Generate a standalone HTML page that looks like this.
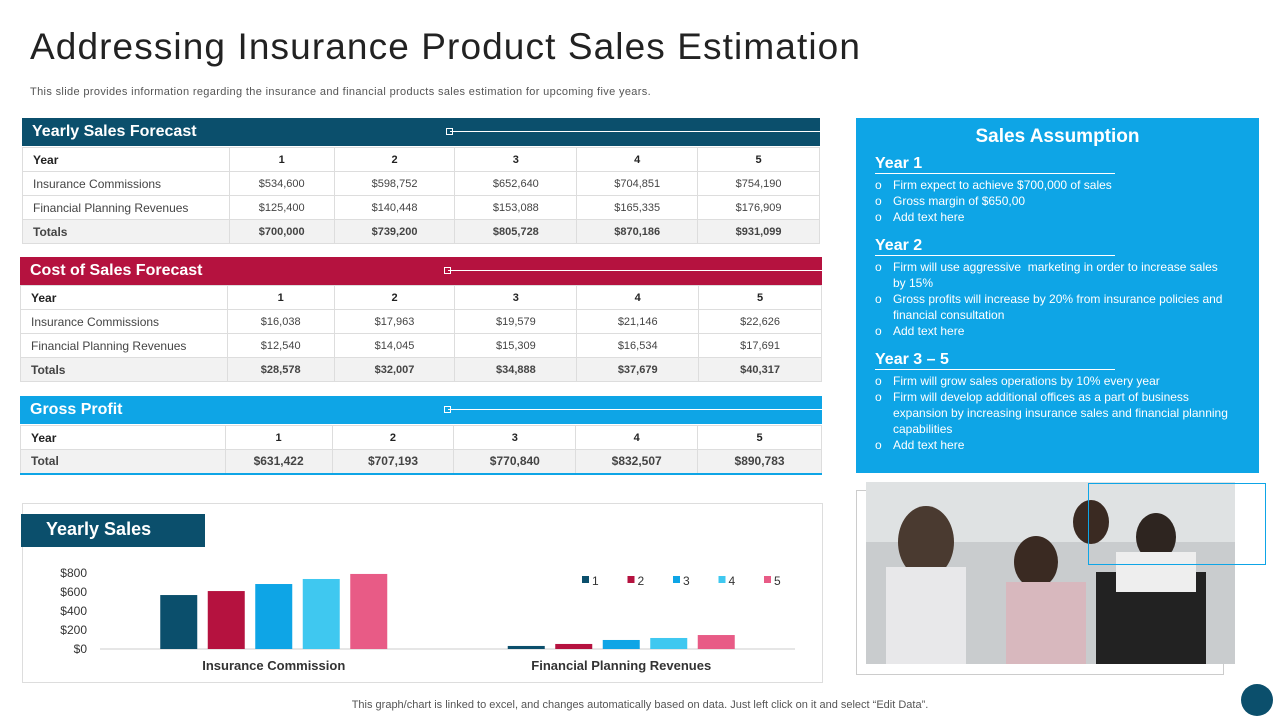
<!DOCTYPE html>
<html><head><meta charset="utf-8"><style>
*{margin:0;padding:0;box-sizing:border-box}
body{width:1280px;height:720px;background:#fff;font-family:"Liberation Sans",sans-serif;position:relative;overflow:hidden;color:#333}
.abs{position:absolute}
h1{position:absolute;left:30px;top:26px;font-size:37px;font-weight:normal;color:#222;letter-spacing:1.1px}
.sub{left:30px;top:86px;font-size:11px;color:#555;letter-spacing:0.35px}
.hdr{position:absolute;height:28px;color:#fff;font-size:16px;font-weight:bold;padding:5px 10px}
.hdr .ln{position:absolute;left:428px;top:13px;right:0;height:1px;background:#fff}
.hdr .sq{position:absolute;left:424px;top:10px;width:7px;height:7px;border:1px solid #fff}
table{position:absolute;border-collapse:collapse;font-size:11px}
td{border:1px solid #ddd;text-align:center;height:24px;color:#444}
td:first-child{text-align:left;padding-left:10px;font-size:12px}
tr.b td{font-weight:bold;background:#f2f2f2}
tr.y td{font-weight:bold;color:#222}
.panel{left:856px;top:118px;width:403px;height:355px;background:#0ea5e6;color:#fff;padding:8px 30px 8px 19px}
.panel h2{text-align:center;font-size:19px;margin-bottom:7px;margin-right:-11px}
.panel h3{font-size:16px;border-bottom:1px solid #fff;width:240px;margin-top:6px;margin-bottom:3px}
.panel ul{list-style:none;font-size:12px;line-height:16px}
.panel li{padding-left:18px;position:relative}
.panel li:before{content:"o";position:absolute;left:0}
</style></head><body>
<h1>Addressing Insurance Product Sales Estimation</h1>
<div class="abs sub">This slide provides information regarding the insurance and financial products sales estimation for upcoming five years.</div>

<div class="hdr" style="left:22px;top:118px;width:798px;background:#0b4f6c">Yearly Sales Forecast<div class="sq"></div><div class="ln"></div></div>
<table style="left:22px;top:147px;width:798px">
<colgroup><col style="width:207px"><col style="width:105px"><col style="width:121px"><col style="width:122px"><col style="width:121px"><col style="width:122px"></colgroup>
<tr class="y"><td>Year</td><td>1</td><td>2</td><td>3</td><td>4</td><td>5</td></tr>
<tr><td>Insurance Commissions</td><td>$534,600</td><td>$598,752</td><td>$652,640</td><td>$704,851</td><td>$754,190</td></tr>
<tr><td>Financial Planning Revenues</td><td>$125,400</td><td>$140,448</td><td>$153,088</td><td>$165,335</td><td>$176,909</td></tr>
<tr class="b"><td>Totals</td><td>$700,000</td><td>$739,200</td><td>$805,728</td><td>$870,186</td><td>$931,099</td></tr>
</table>

<div class="hdr" style="left:20px;top:257px;width:802px;background:#b5123f">Cost of Sales Forecast<div class="sq"></div><div class="ln"></div></div>
<table style="left:20px;top:285px;width:802px">
<colgroup><col style="width:207px"><col style="width:107px"><col style="width:121px"><col style="width:122px"><col style="width:122px"><col style="width:123px"></colgroup>
<tr class="y"><td>Year</td><td>1</td><td>2</td><td>3</td><td>4</td><td>5</td></tr>
<tr><td>Insurance Commissions</td><td>$16,038</td><td>$17,963</td><td>$19,579</td><td>$21,146</td><td>$22,626</td></tr>
<tr><td>Financial Planning Revenues</td><td>$12,540</td><td>$14,045</td><td>$15,309</td><td>$16,534</td><td>$17,691</td></tr>
<tr class="b"><td>Totals</td><td>$28,578</td><td>$32,007</td><td>$34,888</td><td>$37,679</td><td>$40,317</td></tr>
</table>

<div class="hdr" style="left:20px;top:396px;width:802px;background:#0ea5e6">Gross Profit<div class="sq"></div><div class="ln"></div></div>
<table style="left:20px;top:425px;width:802px;border-bottom:2px solid #0ea5e6">
<colgroup><col style="width:205px"><col style="width:107px"><col style="width:122px"><col style="width:122px"><col style="width:122px"><col style="width:124px"></colgroup>
<tr class="y"><td>Year</td><td>1</td><td>2</td><td>3</td><td>4</td><td>5</td></tr>
<tr class="b" style="font-size:12px"><td>Total</td><td>$631,422</td><td>$707,193</td><td>$770,840</td><td>$832,507</td><td>$890,783</td></tr>
</table>

<div class="abs panel">
<h2>Sales Assumption</h2>
<h3>Year 1</h3>
<ul><li>Firm expect to achieve $700,000 of sales</li><li>Gross margin of $650,00</li><li>Add text here</li></ul>
<h3 style="margin-top:12px">Year 2</h3>
<ul><li>Firm will use aggressive&nbsp; marketing in order to increase sales by 15%</li><li>Gross profits will increase by 20% from insurance policies and financial consultation</li><li>Add text here</li></ul>
<h3 style="margin-top:12px">Year 3 – 5</h3>
<ul><li>Firm will grow sales operations by 10% every year</li><li>Firm will develop additional offices as a part of business expansion by increasing insurance sales and financial planning capabilities</li><li>Add text here</li></ul>
</div>

<div class="abs" style="left:856px;top:490px;width:368px;height:185px;border:1px solid #ccc"></div>
<svg class="abs" style="left:866px;top:482px" width="369" height="182">
<rect width="369" height="182" fill="#c9ccce"/>
<rect x="0" y="0" width="369" height="60" fill="#dfe2e3"/>
<rect x="230" y="90" width="110" height="92" fill="#222"/>
<ellipse cx="60" cy="60" rx="28" ry="36" fill="#4a3a30"/>
<rect x="20" y="85" width="80" height="97" fill="#e8e8ea"/>
<ellipse cx="170" cy="80" rx="22" ry="26" fill="#3a2a22"/>
<rect x="140" y="100" width="80" height="82" fill="#d8b8be"/>
<ellipse cx="290" cy="55" rx="20" ry="24" fill="#2e2520"/>
<rect x="250" y="70" width="80" height="40" fill="#eee"/>
<ellipse cx="225" cy="40" rx="18" ry="22" fill="#3a2a22"/>
</svg>
<div class="abs" style="left:1088px;top:483px;width:178px;height:82px;border:1px solid #0ea5e6"></div>

<div class="abs" style="left:22px;top:503px;width:801px;height:180px;border:1px solid #ddd"></div>
<div class="abs" style="left:21px;top:514px;width:184px;height:33px;background:#0b4f6c;color:#fff;font-size:18px;font-weight:bold;padding:5px 0 0 25px">Yearly Sales</div>
<svg class="abs" id="chart" style="left:0;top:0" width="1280" height="720"></svg>

<div class="abs" style="left:0;width:1280px;top:699px;text-align:center;font-size:11px;color:#555">This graph/chart is linked to excel, and changes automatically based on data. Just left click on it and select “Edit Data”.</div>
<div class="abs" style="left:1241px;top:684px;width:32px;height:32px;border-radius:50%;background:#0b4f6c"></div>

<script>
const categories=["Insurance Commission","Financial Planning Revenues"];
const seriesNames=["1","2","3","4","5"];
const year1=[568,32];
const year2=[610,53];
const year3=[684,95];
const year4=[737,116];
const year5=[790,147];
const yTicks=[0,200,400,600,800];
const colors=["#0b4f6c","#b5123f","#0ea5e6","#3fc8f0","#e85b86"];
const series=[year1,year2,year3,year4,year5];
const svg=document.getElementById('chart');
const NS="http://www.w3.org/2000/svg";
const x0=100,x1=795,y0=649,y1=573,yMax=800;
const yS=v=>y0-(v/yMax)*(y0-y1);
const bw=(x1-x0)/categories.length;
function mk(t,a,txt){const e=document.createElementNS(NS,t);for(const k in a)e.setAttribute(k,a[k]);if(txt!==undefined)e.textContent=txt;svg.appendChild(e);return e;}
yTicks.forEach(v=>{
 const t=mk('text',{x:87,y:yS(v)+4,'text-anchor':'end','font-size':12,fill:'#333','font-family':'Liberation Sans'},'$'+v);
 
 
});
const ax=mk('line',{x1:x0,x2:x1,y1:y0,y2:y0,stroke:'#ccc'});


categories.forEach((c,i)=>{
 const cx=x0+bw*(i+0.5);
 series.forEach((s,j)=>{
  const x=cx+(j-2)*47.5-18.5;
  const r=mk('rect',{x:x,y:yS(s[i]),width:37,height:y0-yS(s[i]),fill:colors[j]});
  
  
 });
 const t=mk('text',{x:cx,y:670,'text-anchor':'middle','font-size':13,'font-weight':'bold',fill:'#333','font-family':'Liberation Sans'},c);
 
 
});
seriesNames.forEach((n,j)=>{
 const lx=582+j*45.5;
 const r=mk('rect',{x:lx,y:576,width:7,height:7,fill:colors[j]});
 
 
 const t=mk('text',{x:lx+10,y:585,'font-size':12,fill:'#333','font-family':'Liberation Sans'},n);
 
 
});
</script>
</body></html>
